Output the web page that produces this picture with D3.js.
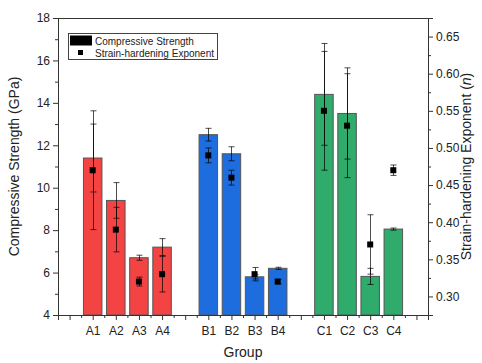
<!DOCTYPE html>
<html>
<head>
<meta charset="utf-8">
<script src="https://cdn.jsdelivr.net/npm/d3@7/dist/d3.min.js"></script>
<style>
html,body{margin:0;padding:0;background:#fff;}
svg{display:block;font-family:"Liberation Sans",Arial,sans-serif;}
</style>
</head>
<body>
<svg id="chart" width="482" height="363"></svg>
<script>
const categories = ["A1","A2","A3","A4","B1","B2","B3","B4","C1","C2","C3","C4"];
const positions  = [1,2,3,4,6,7,8,9,11,12,13,14];
const groups     = ["A","A","A","A","B","B","B","B","C","C","C","C"];
const strength    = [11.4, 9.4, 6.7, 7.2, 12.5, 11.6, 5.8, 6.2, 14.4, 13.5, 5.82, 8.05];
const strengthErr = [1.6, 0.84, 0.12, 0.4, 0.3, 0.33, 0.1, 0.05, 2.4, 2.15, 0.38, 0.05];
const exponent    = [0.47, 0.39, 0.32, 0.33, 0.49, 0.46, 0.33, 0.32, 0.55, 0.53, 0.37, 0.47];
const exponentErr = [0.08, 0.03, 0.006, 0.024, 0.01, 0.01, 0.009, 0.003, 0.08, 0.07, 0.04, 0.007];
const leftTicks  = [4,6,8,10,12,14,16,18];
const rightTicks = [0.30,0.35,0.40,0.45,0.50,0.55,0.60,0.65];
const groupColors = {A:"#f44343", B:"#1d6ddf", C:"#2fab6b"};

const svg = d3.select("#chart");
const L = 58, R = 428, T = 18, B = 315;

const x = d3.scaleLinear().domain([-0.5, 15.5]).range([L, R]);
const y = d3.scaleLinear().domain([4, 18]).range([B, T]);
const y2 = d3.scaleLinear().domain([0.275, 0.675]).range([B, T]);

const data = categories.map((c,i)=>({c, p:positions[i], g:groups[i], s:strength[i], se:strengthErr[i], n:exponent[i], ne:exponentErr[i]}));

const bw = (x(1)-x(0))*0.8;
const axisColor = "#333";

// bars
svg.append("g").selectAll("rect").data(data).join("rect")
  .attr("x", d=>x(d.p)-bw/2).attr("width", bw)
  .attr("y", d=>y(d.s)).attr("height", d=>y(4)-y(d.s))
  .attr("fill", d=>groupColors[d.g])
  .attr("stroke", "#555").attr("stroke-width", 1);

function errBars(sel, cx, lo, hi){
  const g = sel.append("g").attr("stroke","#000").attr("stroke-opacity",0.7).attr("stroke-width",1);
  g.append("line").attr("x1",cx).attr("x2",cx).attr("y1",lo).attr("y2",hi);
  g.append("line").attr("x1",cx-3).attr("x2",cx+3).attr("y1",lo).attr("y2",lo);
  g.append("line").attr("x1",cx-3).attr("x2",cx+3).attr("y1",hi).attr("y2",hi);
}
const eg = svg.append("g");
data.forEach(d=>{
  errBars(eg, Math.round(x(d.p))+0.5, y(d.s-d.se), y(d.s+d.se));
  errBars(eg, Math.round(x(d.p))+0.5, y2(d.n-d.ne), y2(d.n+d.ne));
});
// squares
svg.append("g").selectAll("rect").data(data).join("rect")
  .attr("x", d=>x(d.p)-3).attr("y", d=>y2(d.n)-3)
  .attr("width",6).attr("height",6).attr("fill","#000");

// frame top
svg.append("line").attr("x1",L).attr("x2",R).attr("y1",T+0.5).attr("y2",T+0.5).attr("stroke",axisColor);

function styleAxis(g){
  g.selectAll("path,line").attr("stroke",axisColor);
  g.selectAll("text").attr("fill","#222").style("font-size","12px").style("font-family","'Liberation Sans',Arial,sans-serif");
}

// left axis
const la = svg.append("g").attr("transform",`translate(${L},0)`)
  .call(d3.axisLeft(y).tickValues(leftTicks).tickSize(5).tickPadding(3).tickFormat(d3.format("d")));
styleAxis(la);
const lam = svg.append("g").attr("transform",`translate(${L},0)`)
  .call(d3.axisLeft(y).tickValues(d3.range(5,18,2)).tickSize(3).tickFormat(""));
styleAxis(lam);

// right axis
const ra = svg.append("g").attr("transform",`translate(${R},0)`)
  .call(d3.axisRight(y2).tickValues(rightTicks).tickSize(5).tickPadding(3).tickFormat(d3.format(".2f")));
styleAxis(ra);
const ram = svg.append("g").attr("transform",`translate(${R},0)`)
  .call(d3.axisRight(y2).tickValues(rightTicks.map(v=>v-0.025).concat([0.675])).tickSize(3).tickFormat(""));
styleAxis(ram);

// bottom axis
const posToCat = new Map(positions.map((p,i)=>[p,categories[i]]));
const xa = svg.append("g").attr("transform",`translate(0,${B})`)
  .call(d3.axisBottom(x).tickValues(d3.range(0,16,1)).tickSize(5).tickPadding(6).tickFormat(d=>posToCat.get(d)||""));
styleAxis(xa);
const xam = svg.append("g").attr("transform",`translate(0,${B})`)
  .call(d3.axisBottom(x).tickValues(d3.range(0.5,15.5,1)).tickSize(3).tickFormat(""));
styleAxis(xam);
[la,lam,ra,ram,xa,xam].forEach(g=>g.select(".domain").attr("stroke",axisColor));

// axis titles
svg.append("text").attr("transform",`translate(19,${(T+B)/2}) rotate(-90)`)
  .attr("text-anchor","middle").attr("fill","#222").style("font-size","14px")
  .text("Compressive Strength (GPa)");
const rt = svg.append("text").attr("transform",`translate(467,${(T+B)/2}) rotate(-90)`)
  .attr("text-anchor","middle").attr("dominant-baseline","middle").attr("fill","#222").style("font-size","14px");
rt.append("tspan").text("Strain-hardening Exponent (");
rt.append("tspan").attr("font-style","italic").text("n");
rt.append("tspan").text(")");
svg.append("text").attr("x",(L+R)/2).attr("y",357).attr("text-anchor","middle")
  .attr("fill","#222").style("font-size","14px").text("Group");

// legend
const lg = svg.append("g");
lg.append("rect").attr("x",68.5).attr("y",33.5).attr("width",149).attr("height",26)
  .attr("fill","#fff").attr("stroke","#444").attr("stroke-width",1);
lg.append("rect").attr("x",70).attr("y",35.5).attr("width",22).attr("height",10).attr("fill","#000");
lg.append("text").attr("x",95).attr("y",44.5).style("font-size","10px").attr("fill","#222").text("Compressive Strength");
lg.append("rect").attr("x",78).attr("y",50).attr("width",5).attr("height",5).attr("fill","#000");
lg.append("text").attr("x",95).attr("y",56.5).style("font-size","10px").attr("fill","#222").text("Strain-hardening Exponent");
</script>
</body>
</html>
